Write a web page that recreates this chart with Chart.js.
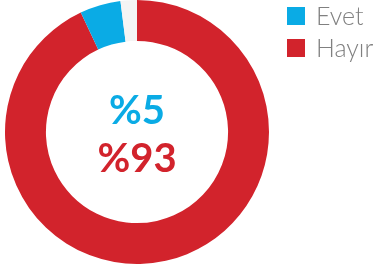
<!DOCTYPE html>
<html>
<head>
<meta charset="utf-8">
<script src="https://cdn.jsdelivr.net/npm/chart.js@4"></script>
<style>
  html, body { margin: 0; padding: 0; background: #fff; }
  #wrap { position: relative; width: 378px; height: 274px; }
  #legend { position: absolute; left: 287px; top: 7px; font-family: Lato, sans-serif; font-weight: 300; font-size: 25px; color: #808080; }
  #legend div { position: relative; height: 32px; white-space: nowrap; }
  #legend span.box { position: absolute; left: 0; top: 0; width: 18px; height: 18px; }
  #legend span.txt { position: absolute; left: 29px; top: -7px; line-height: 30px; }
</style>
</head>
<body>
<div id="wrap">
  <canvas id="chart" width="378" height="274"></canvas>
  <div id="legend"></div>
</div>
<script>
const labels = ['Hayır', 'Evet', ''];
const values = [93, 5, 2];
const colors = ['#d2232c', '#0aabe5', '#f4f4f4'];
const legendItems = ['Evet', 'Hayır'];
const legendColors = ['#0aabe5', '#d2232c'];
const centerTexts = ['%5', '%93'];

const centerText = {
  id: 'centerText',
  afterDraw(chart) {
    const arc = chart.getDatasetMeta(0).data[0];
    const c = chart.ctx;
    c.save();
    c.textAlign = 'center';
    c.textBaseline = 'alphabetic';
    c.font = 'bold 40px Lato, sans-serif';
    c.fillStyle = legendColors[0];
    c.fillText(centerTexts[0], arc.x, 124);
    c.fillStyle = legendColors[1];
    c.fillText(centerTexts[1], arc.x, 172);
    c.restore();
  }
};

new Chart(document.getElementById('chart'), {
  type: 'doughnut',
  data: {
    labels: labels,
    datasets: [{
      data: values,
      backgroundColor: colors,
      borderWidth: 0
    }]
  },
  options: {
    responsive: false,
    animation: false,
    cutout: '69%',
    layout: { padding: { left: 5, top: 0, right: 109, bottom: 10 } },
    plugins: {
      legend: { display: false },
      tooltip: { enabled: false }
    }
  },
  plugins: [centerText]
});

const legend = document.getElementById('legend');
legendItems.forEach((name, i) => {
  const d = document.createElement('div');
  d.innerHTML = '<span class="box" style="background:' + legendColors[i] + '"></span><span class="txt">' + name + '</span>';
  legend.appendChild(d);
});
</script>
</body>
</html>
